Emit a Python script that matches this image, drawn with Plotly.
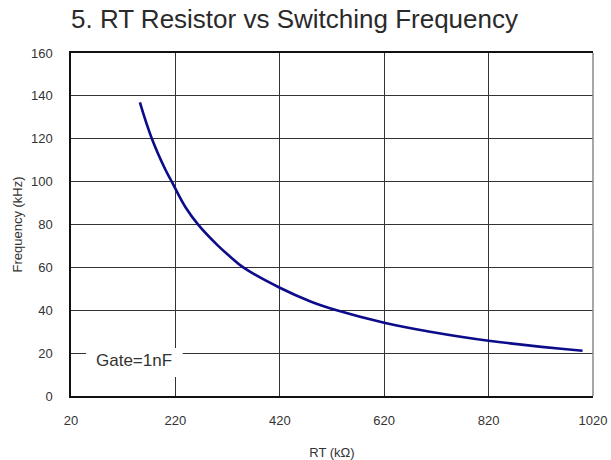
import plotly.graph_objects as go

# Data
rt_kohm = [152, 175, 200, 213, 240, 264, 300, 325, 350, 420, 480, 529, 620, 708, 820, 1000]
freq_khz = [137, 120, 106, 100, 87.8, 79.8, 70.5, 65, 60, 50.5, 44, 40, 34.2, 30, 25.8, 21.1]

x_ticks = [20, 220, 420, 620, 820, 1020]
y_ticks = [0, 20, 40, 60, 80, 100, 120, 140, 160]

title_text = "5. RT Resistor vs Switching Frequency"
x_title = "RT (kΩ)"
y_title = "Frequency (kHz)"
note_text = "Gate=1nF"

FONT = "Liberation Sans"

fig = go.Figure()
fig.add_trace(go.Scatter(
    x=rt_kohm, y=freq_khz, mode="lines",
    line=dict(color="#0c0c8a", width=2.6, shape="spline", smoothing=1.2),
    showlegend=False, hoverinfo="skip",
))

# white patch behind the note, hiding the grid
fig.add_shape(type="rect", xref="x", yref="y", x0=49, x1=234, y0=8.9, y1=22.4,
              fillcolor="white", line=dict(width=0), layer="above")
fig.add_annotation(x=140, y=16.6, xref="x", yref="y", text=note_text, showarrow=False,
                   font=dict(family=FONT, size=17, color="#333333"))

# right border in grey
fig.add_shape(type="line", xref="paper", yref="paper", x0=1, x1=1, y0=0, y1=1,
              line=dict(color="#8a8a8a", width=1.5))

fig.update_layout(
    width=611, height=460,
    margin=dict(l=71, r=18, t=53, b=64, autoexpand=False),
    paper_bgcolor="white", plot_bgcolor="white",
    font=dict(family=FONT, size=13, color="#333333"),
    title=dict(text=title_text, x=71/611, xanchor="left", xref="container",
               y=1 - 19/460, yanchor="middle", yref="container",
               font=dict(family=FONT, size=26, color="#2a2a2a")),
    xaxis=dict(range=[20, 1020], tickvals=x_ticks, showgrid=True, gridcolor="#333333",
               gridwidth=1, showline=True, linecolor="#111111", linewidth=1.5, mirror=True,
               ticks="", ticklabelstandoff=12, zeroline=False, automargin=False,
               tickfont=dict(family=FONT, size=13, color="#333333"),
               title=dict(text=x_title, standoff=22, font=dict(family=FONT, size=13))),
    yaxis=dict(range=[0, 160], tickvals=y_ticks, showgrid=True, gridcolor="#333333",
               gridwidth=1, showline=True, linecolor="#111111", linewidth=1.5, mirror=False,
               ticks="", ticklabelstandoff=14, zeroline=False, automargin=False,
               tickfont=dict(family=FONT, size=13, color="#333333"),
               title=dict(text=y_title, standoff=5, font=dict(family=FONT, size=13))),
)

fig.write_html("out.html", config={"displayModeBar": False},
               post_script="document.body.style.margin='0';")
